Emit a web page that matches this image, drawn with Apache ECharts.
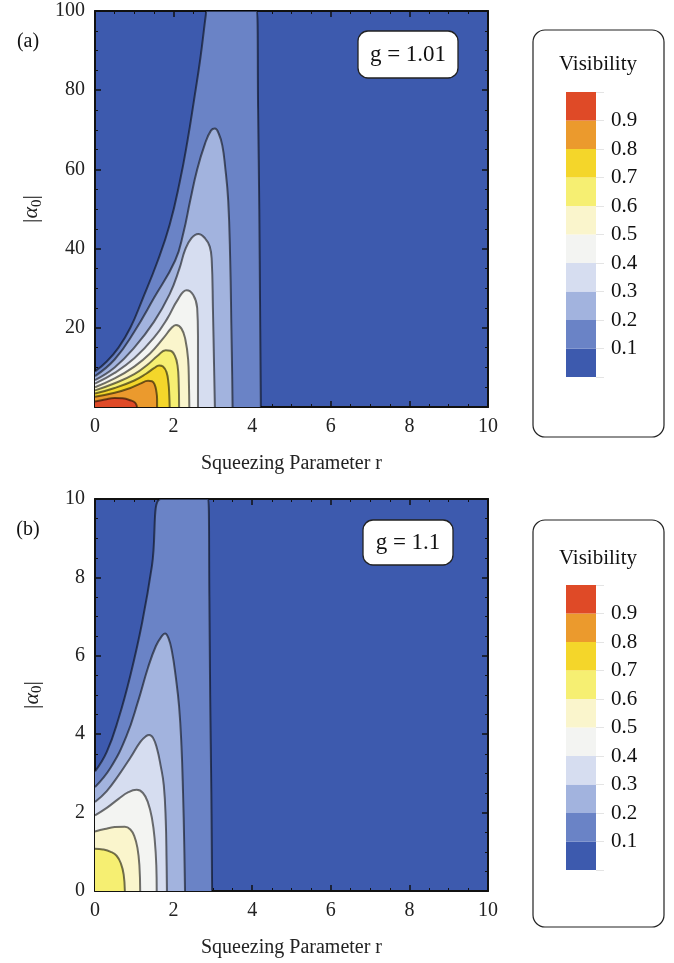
<!DOCTYPE html>
<html>
<head>
<meta charset="utf-8">
<script src="https://cdn.jsdelivr.net/npm/echarts@6/dist/echarts.min.js"></script>
<style>
  html, body { margin: 0; padding: 0; background: #fff; }
  #chart { width: 674px; height: 963px; }
</style>
</head>
<body>
<div id="chart"></div>
<script>
// contour levels of the visibility, 0.1 ... 0.9
const levelsA = [0.1, 0.2, 0.3, 0.4, 0.5, 0.6, 0.7, 0.8, 0.9];
const levelsB = [0.1, 0.2, 0.3, 0.4, 0.5, 0.6];
const legendEdges = [0, 0.1, 0.2, 0.3, 0.4, 0.5, 0.6, 0.7, 0.8, 0.9, 1.0];

// (a) g = 1.01 : contour curves [r, |alpha0|]
const a01 = [[0,9],[0.3,11.5],[0.6,15],[0.9,20],[1.2,27],[1.6,37],[1.9,46],[2.16,57],[2.35,67],[2.52,77.5],[2.68,88],[2.82,99],[2.84,100],[4.12,100],[4.15,75],[4.18,50],[4.2,25],[4.22,0]];
const a02 = [[0,7.8],[0.5,12],[1.0,19],[1.5,27.5],[2.04,37],[2.25,44],[2.42,52],[2.6,60],[2.8,66.5],[2.95,69.8],[3.05,70.3],[3.15,69],[3.24,66],[3.31,60.8],[3.39,52],[3.44,37],[3.47,20],[3.49,8],[3.5,0]];
const a03 = [[0,6.8],[0.5,10],[1.0,15],[1.5,21.5],[1.9,28.5],[2.15,35],[2.29,39.6],[2.45,42.6],[2.63,43.7],[2.8,42.6],[2.92,40.5],[2.97,37],[3.0,25],[3.03,10],[3.05,0]];
const a04 = [[0,5.9],[0.5,8.6],[1.0,12.3],[1.5,17.5],[1.85,22.5],[2.1,27],[2.33,29.5],[2.5,28.3],[2.6,25],[2.62,18],[2.62,8],[2.62,0]];
const a05 = [[0,5.0],[0.5,7.2],[1.0,10.2],[1.4,13.5],[1.75,17.5],[1.95,20],[2.06,20.7],[2.2,19.8],[2.3,17],[2.37,12],[2.39,6],[2.4,0]];
const a06 = [[0,4.2],[0.5,6.0],[1.0,8.3],[1.35,10.8],[1.6,13],[1.8,14.3],[1.92,14.2],[2.03,13],[2.1,10.5],[2.13,6],[2.14,0]];
const a07 = [[0,3.4],[0.5,4.8],[1.0,6.7],[1.3,8.4],[1.5,9.8],[1.63,10.5],[1.73,10.2],[1.82,8.8],[1.87,6],[1.89,3],[1.9,0]];
const a08 = [[0,2.6],[0.5,3.6],[0.9,4.8],[1.15,5.9],[1.35,6.6],[1.45,6.5],[1.52,5.6],[1.56,4],[1.58,2],[1.58,0]];
const a09 = [[0,1.4],[0.25,1.9],[0.5,2.3],[0.7,2.2],[0.9,1.7],[1.02,1.1],[1.07,0]];

// (b) g = 1.1
const b01 = [[0,3.05],[0.3,3.55],[0.6,4.4],[0.9,5.5],[1.2,6.85],[1.45,8.3],[1.67,10],[2.88,10],[2.91,7.5],[2.93,5],[2.96,2.5],[2.98,0]];
const b02 = [[0,2.65],[0.4,3.15],[0.8,3.95],[1.1,4.85],[1.35,5.7],[1.55,6.25],[1.7,6.5],[1.78,6.57],[1.87,6.45],[1.96,6.1],[2.05,5.5],[2.14,4.7],[2.2,3.7],[2.24,2.5],[2.27,1.2],[2.29,0]];
const b03 = [[0,2.27],[0.3,2.55],[0.6,2.95],[0.9,3.4],[1.15,3.8],[1.3,3.95],[1.38,3.98],[1.48,3.9],[1.58,3.62],[1.67,3.2],[1.75,2.7],[1.8,1.8],[1.82,0.8],[1.83,0]];
const b04 = [[0,1.93],[0.3,2.12],[0.6,2.35],[0.85,2.52],[1.06,2.58],[1.22,2.5],[1.35,2.25],[1.45,1.85],[1.52,1.3],[1.56,0.65],[1.57,0]];
const b05 = [[0,1.52],[0.25,1.58],[0.5,1.63],[0.76,1.64],[0.9,1.57],[1.0,1.4],[1.08,1.1],[1.13,0.65],[1.15,0]];
const b06 = [[0,1.08],[0.2,1.06],[0.4,1.0],[0.55,0.9],[0.66,0.7],[0.73,0.42],[0.76,0]];

const contoursA = [a01, a02, a03, a04, a05, a06, a07, a08, a09];
const contoursB = [b01, b02, b03, b04, b05, b06];

const bandColors = ['#3d5aae', '#6a83c6', '#a2b3de', '#d6ddf0', '#f3f4f2',
                    '#faf5cc', '#f6ef72', '#f4d62a', '#eb9a2d', '#df4a27'];
const serif = '"Liberation Serif", "DejaVu Serif", serif';

const chart = echarts.init(document.getElementById('chart'));

function contourSeries(curves, levels, axisIdx) {
  const base = {
    type: 'line', xAxisIndex: axisIdx, yAxisIndex: axisIdx, symbol: 'none',
    smooth: 0.45, silent: true, animation: false, clip: true
  };
  const areas = curves.map((pts, i) => Object.assign({}, base, {
    name: 'V>' + levels[i], data: pts,
    lineStyle: { width: 0, opacity: 0 },
    areaStyle: { color: bandColors[i + 1], opacity: 1 }
  }));
  const lines = curves.map((pts, i) => Object.assign({}, base, {
    name: 'V=' + levels[i], data: pts,
    lineStyle: { color: 'rgba(0,0,0,0.55)', width: 2 }
  }));
  return areas.concat(lines);
}

function legendSeries(axisIdx) {
  return bandColors.map((c, i) => ({
    type: 'bar', xAxisIndex: axisIdx, yAxisIndex: axisIdx, stack: 'leg' + axisIdx,
    data: [legendEdges[i + 1] - legendEdges[i]], barWidth: '100%',
    itemStyle: { color: c }, silent: true, animation: false
  }));
}

const tickCommon = {
  axisLine: { show: true, onZero: false, lineStyle: { color: '#111', width: 2 } },
  axisTick: { show: true, inside: true, length: 6, lineStyle: { color: '#111', width: 1.5 } },
  minorTick: { show: true, splitNumber: 4, length: 3, lineStyle: { color: '#111', width: 1 } },
  splitLine: { show: false },
  minorSplitLine: { show: false }
};

function xAx(gridIndex, pos) {
  const labels = pos === 'bottom';
  return Object.assign({
    type: 'value', gridIndex, position: pos, min: 0, max: 10, interval: 2,
    axisLabel: { show: labels, fontFamily: serif, fontSize: 20, color: '#222', margin: 10 },
    name: labels ? 'Squeezing Parameter r' : '', nameLocation: 'middle', nameGap: 47,
    nameTextStyle: { fontFamily: serif, fontSize: 20, color: '#222' }
  }, tickCommon);
}

function yAx(gridIndex, pos, max, interval, showZero) {
  const labels = pos === 'left';
  return Object.assign({
    type: 'value', gridIndex, position: pos, min: 0, max, interval,
    axisLabel: { show: labels, fontFamily: serif, fontSize: 20, color: '#222', margin: 10, showMinLabel: showZero },
    name: labels ? '|{i|α}{s|0}|' : '', nameLocation: 'middle', nameGap: 50, nameRotate: 90,
    nameTextStyle: {
      fontFamily: serif, fontSize: 22, color: '#222', lineHeight: 26,
      rich: {
        i: { fontFamily: serif, fontSize: 22, fontStyle: 'italic', color: '#222', lineHeight: 26 },
        s: { fontFamily: serif, fontSize: 15, color: '#222', verticalAlign: 'bottom', lineHeight: 26 }
      }
    }
  }, tickCommon);
}

function legendY(gridIndex) {
  return {
    type: 'value', gridIndex, position: 'right', min: 0, max: 1, interval: 0.1,
    axisLine: { show: false },
    axisTick: { show: true, length: 8, lineStyle: { color: '#e4e4e4' } },
    splitLine: { show: false },
    axisLabel: {
      margin: 15, fontFamily: serif, fontSize: 21, color: '#111',
      formatter: v => (v > 0.001 && v < 0.999) ? v.toFixed(1) : ''
    }
  };
}

function label(text, x, y, size) {
  return {
    type: 'text', z: 100,
    style: { text, x, y, font: size + 'px ' + serif, fill: '#111',
      align: 'center', verticalAlign: 'middle', textAlign: 'center', textVerticalAlign: 'middle' }
  };
}

const option = {
  backgroundColor: '#fff',
  animation: false,
  grid: [
    { left: 95, top: 11, width: 393, height: 396, show: true, backgroundColor: bandColors[0], borderWidth: 0 },
    { left: 95, top: 499, width: 393, height: 392, show: true, backgroundColor: bandColors[0], borderWidth: 0 },
    { left: 566, top: 92, width: 30, height: 285 },
    { left: 566, top: 585, width: 30, height: 285 }
  ],
  xAxis: [
    xAx(0, 'bottom'), xAx(0, 'top'),
    xAx(1, 'bottom'), xAx(1, 'top'),
    { type: 'category', gridIndex: 2, data: ['v'], show: false },
    { type: 'category', gridIndex: 3, data: ['v'], show: false }
  ],
  yAxis: [
    yAx(0, 'left', 100, 20, false), yAx(0, 'right', 100, 20, false),
    yAx(1, 'left', 10, 2, true), yAx(1, 'right', 10, 2, true),
    legendY(2), legendY(3)
  ],
  series: [].concat(
    contourSeries(contoursA, levelsA, 0),
    contourSeries(contoursB, levelsB, 2),
    legendSeries(4),
    legendSeries(5)
  ),
  graphic: [
    { type: 'rect', z: 100, shape: { x: 533, y: 30, width: 131, height: 407, r: 12 },
      style: { fill: 'none', stroke: '#222', lineWidth: 1.2 } },
    { type: 'rect', z: 100, shape: { x: 533, y: 520, width: 131, height: 407, r: 12 },
      style: { fill: 'none', stroke: '#222', lineWidth: 1.2 } },
    label('Visibility', 598, 64, 21),
    label('Visibility', 598, 558, 21),
    { type: 'rect', z: 100, shape: { x: 358, y: 31, width: 100, height: 47, r: 10 },
      style: { fill: '#fff', stroke: '#222', lineWidth: 1.3 } },
    label('g = 1.01', 408, 55, 23),
    { type: 'rect', z: 100, shape: { x: 363, y: 520, width: 90, height: 45, r: 10 },
      style: { fill: '#fff', stroke: '#222', lineWidth: 1.3 } },
    label('g = 1.1', 408, 543, 23),
    label('(a)', 28, 42, 20),
    label('(b)', 28, 530, 20)
  ]
};

chart.setOption(option);
</script>
</body>
</html>
